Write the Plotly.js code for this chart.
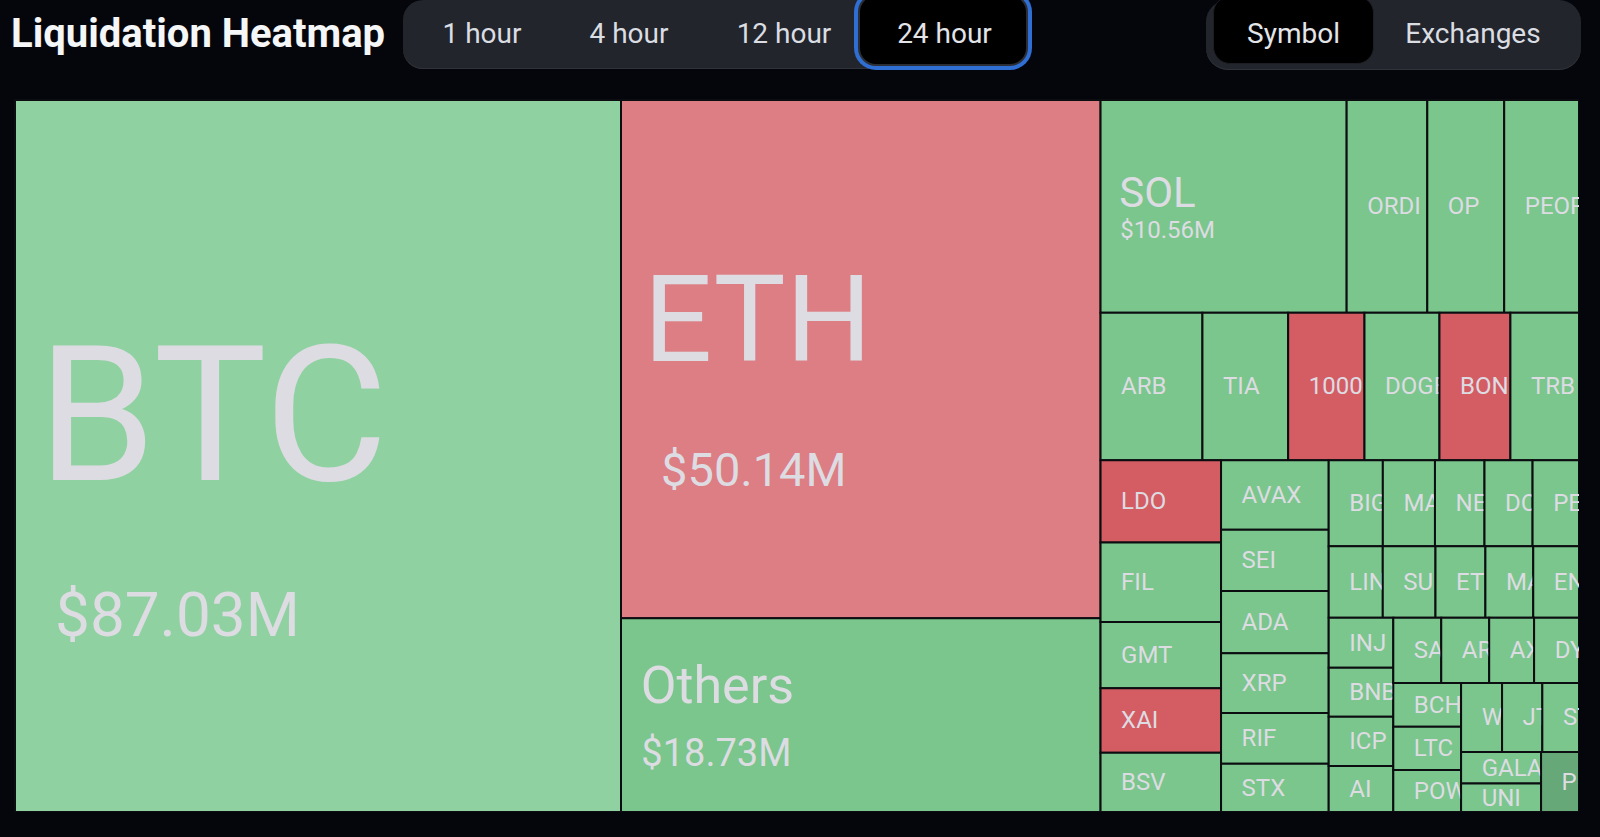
<!DOCTYPE html>
<html>
<head>
<meta charset="utf-8">
<script src="https://cdn.plot.ly/plotly-3.0.1.min.js"></script>
<style>
  html, body { margin:0; padding:0; background:#05060b; width:1600px; height:837px; overflow:hidden; }
  #chart { position:absolute; left:0; top:0; width:1579px; height:812px; }
  .grp { position:absolute; top:0; height:69px; background:#23252c; border-radius:20px; box-shadow: inset 0 -1px 0 #30333b; z-index:2; }
  .btn { position:absolute; box-sizing:border-box; background:#000; z-index:3; }
  .lbl { position:absolute; top:17px; height:28px; line-height:28px; font:400 28px Roboto, sans-serif; color:#dadde2; white-space:nowrap; z-index:4; text-align:center; }
</style>
</head>
<body>
<div id="chart"></div>

<div class="grp" style="left:403px;width:628px;"></div>
<div class="lbl" style="left:420px;width:124px;">1 hour</div>
<div class="lbl" style="left:566px;width:126px;">4 hour</div>
<div class="lbl" style="left:717px;width:134px;">12 hour</div>
<div class="btn" style="left:858px;top:-6px;width:170px;height:72px;border:2px solid #2b2e35;border-radius:18px;box-shadow:0 0 0 4px #2f6ed3;"></div>
<div class="lbl" style="left:858px;width:173px;color:#e2e4e8;">24 hour</div>

<div class="grp" style="left:1206px;width:375px;height:70px;border-radius:22px;"></div>
<div class="btn" style="left:1213px;top:-4px;width:161px;height:68px;border:1px solid #1c1e24;border-radius:17px;"></div>
<div class="lbl" style="left:1213px;width:161px;color:#e3e5e9;">Symbol</div>
<div class="lbl" style="left:1370px;width:206px;">Exchanges</div>

<script>
// ---------------- data ----------------
const symbols = ['BTC','ETH','Others','SOL','ORDI','OP','PEOPLE','ARB','TIA','1000PEPE','DOGE','BONK','TRB',
  'LDO','FIL','GMT','XAI','BSV','AVAX','SEI','ADA','XRP','RIF','STX',
  'BIGTIME','MANTA','NEAR','DOT','PENDLE','LINK','SUI','ETC','MATIC','ENA',
  'INJ','BNB','ICP','AI','SAGA','AR','AXL','DYDX','BCH','LTC','POWR','W','JTO','STRK','GALA','UNI','PIXEL'];
// the part of each name that is visible inside its tile in the reference
const shownLabels = ['BTC','ETH','Others','SOL','ORDI','OP','PEOP','ARB','TIA','1000P','DOGE','BONK','TRB',
  'LDO','FIL','GMT','XAI','BSV','AVAX','SEI','ADA','XRP','RIF','STX',
  'BIG','MA','NE','DO','PE','LIN','SU','ET','MA','EN',
  'INJ','BNB','ICP','AI','SA','AR','AX','DY','BCH','LTC','POW','W','JT','ST','GALA','UNI','P'];
const liquidationsUsdM = [87.03,50.14,18.73,10.56,3.46,3.30,3.21,3.03,2.55,2.27,2.23,2.11,2.04,
  2.00,1.93,1.61,1.57,1.44,1.51,1.33,1.35,1.30,1.10,1.05,
  0.94,0.905,0.86,0.835,0.806,0.78,0.76,0.72,0.69,0.66,
  0.65,0.64,0.64,0.60,0.63,0.63,0.59,0.59,0.60,0.59,0.575,0.57,0.56,0.51,0.51,0.46,0.46];
const tone = ['up-soft','down-soft','up','up','up','up','up','up','up','down','up','down','up',
  'down','up','up','down','up','up','up','up','up','up','up',
  'up','up','up','up','up','up','up','up','up','up',
  'up','up','up','up','up','up','up','up','up','up','up','up','up','up','up','up','up-deep'];

// ---------------- styles ----------------
const TONE_COLORS = {'up-soft':'#90d1a1','down-soft':'#dc7e83','up':'#7ac68c','down':'#d45d64','up-deep':'#66a877'};
const BASE = 24;                 // base label size (also uniformtext size)
const NB = '\u00a0';
const NBW = 0.2476;              // Roboto space advance (em)
// headline tiles (largest first): label/value font sizes, blank lines between, lead spacer, indents
const HEADLINE_STYLE = [
  {label:190, value:62, gap:5, lead:203, inL:19.5, inV:37},
  {label:121, value:47, gap:4, lead:117, inL:19.5, inV:37},
  {label:52,  value:38, gap:2, lead:0,   inL:16.6, inV:17.3},
  {label:42,  value:24, gap:1, lead:0,   inL:15.7, inV:16.6}
];
const SMALL_INDENT = 17.5;

function indent(px, size) {
  const unit = NBW * size;
  const k = Math.floor(px / unit);
  const rem = px - k * unit;
  let s = '';
  if (k > 0) s += '<span style="font-size:' + size + 'px">' + NB.repeat(k) + '</span>';
  if (rem > 0.5) s += '<span style="font-size:' + (rem / NBW).toFixed(1) + 'px">' + NB + '</span>';
  return s;
}
function fmtUsd(v) { return '$' + v.toFixed(2) + 'M'; }

const tileText = shownLabels.map((s, i) => {
  const st = HEADLINE_STYLE[i];
  if (!st) return indent(SMALL_INDENT, BASE) + s;
  let t = '';
  if (st.lead) t += '<span style="font-size:' + st.lead + 'px">' + NB + '</span><br>';
  t += indent(st.inL, st.label) + '<span style="font-size:' + st.label + 'px">' + s + '</span>';
  t += '<br>'.repeat(st.gap);
  t += indent(st.inV, st.value) + '<span style="font-size:' + st.value + 'px">' + fmtUsd(liquidationsUsdM[i]) + '</span>';
  return t;
});

const trace = {
  type: 'treemap',
  labels: symbols,
  parents: symbols.map(() => ''),
  values: liquidationsUsdM,
  sort: false,
  text: tileText,
  textinfo: 'text',
  textposition: 'middle left',
  textfont: {family: 'Roboto, sans-serif', size: BASE, color: '#dddce2'},
  insidetextfont: {family: 'Roboto, sans-serif', size: BASE, color: '#dddce2'},
  marker: {
    colors: tone.map(t => TONE_COLORS[t]),
    line: {color: '#0c0d10', width: 2},
    pad: {t: 0, l: 0, r: 0, b: 0}
  },
  tiling: {packing: 'squarify', squarifyratio: (1 + Math.sqrt(5)) / 2, pad: 0},
  pathbar: {visible: false},
  leaf: {opacity: 1},
  hovertemplate: '%{label}<br>$%{value:.2f}M<extra></extra>',
  domain: {x: [0, 1], y: [0, 1]}
};

const layout = {
  width: 1579, height: 812,
  margin: {l: 15, r: 0, t: 100, b: 0},
  paper_bgcolor: '#05060b',
  plot_bgcolor: '#05060b',
  uniformtext: {mode: 'show', minsize: BASE},
  title: {
    text: 'Liquidation Heatmap',
    font: {family: 'Roboto, sans-serif', size: 40, weight: 700, color: '#f5f6f8'},
    xref: 'container', yref: 'container',
    x: 11 / 1579, xanchor: 'left',
    y: 1 - 18.5 / 812, yanchor: 'top'
  },
  showlegend: false
};

Plotly.newPlot('chart', [trace], layout, {displayModeBar: false, responsive: false});
</script>
</body>
</html>
